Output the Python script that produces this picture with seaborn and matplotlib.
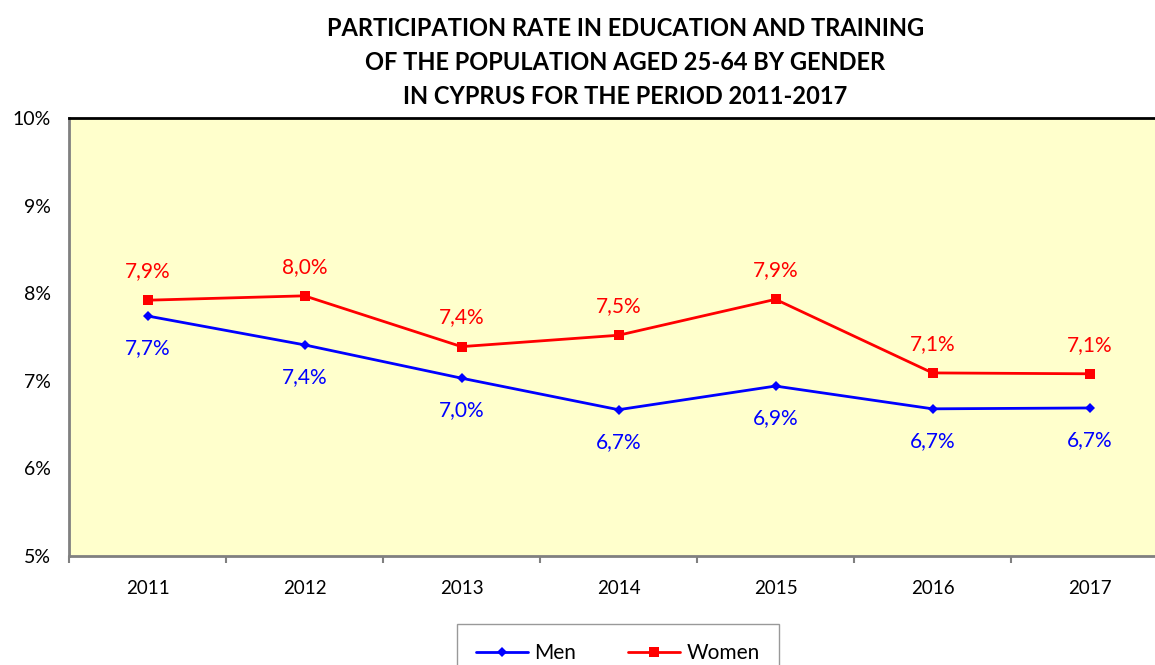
import numpy as np
import pandas as pd
import matplotlib
matplotlib.use("Agg")
import matplotlib.pyplot as plt
import seaborn as sns

years = ['2011', '2012', '2013', '2014', '2015', '2016', '2017']
men = [7.74, 7.41, 7.03, 6.67, 6.94, 6.68, 6.69]
women = [7.92, 7.97, 7.39, 7.52, 7.93, 7.09, 7.08]
men_labels = ['7,7%', '7,4%', '7,0%', '6,7%', '6,9%', '6,7%', '6,7%']
women_labels = ['7,9%', '8,0%', '7,4%', '7,5%', '7,9%', '7,1%', '7,1%']
yticks = [5, 6, 7, 8, 9, 10]

sns.set_style("white")
plt.rcParams['font.family'] = ['Lato', 'DejaVu Sans']
plt.rcParams['text.color'] = 'black'
plt.rcParams['xtick.labelcolor'] = 'black'
plt.rcParams['ytick.labelcolor'] = 'black'

df = pd.DataFrame({
    'x': list(range(len(years))) * 2,
    'value': men + women,
    'Gender': ['Men'] * len(years) + ['Women'] * len(years),
})

fig = plt.figure(figsize=(11.55, 6.65), dpi=100)
ax = fig.add_axes([69/1155, 1-556/665, 1099/1155, (556-118)/665])
ax.set_facecolor('#FFFFCC')

sns.lineplot(data=df, x='x', y='value', hue='Gender', style='Gender',
             palette={'Men': '#0000FF', 'Women': '#FF0000'},
             markers={'Men': 'D', 'Women': 's'}, dashes=False,
             markersize=7, linewidth=2, markeredgewidth=0, ax=ax, legend=True)
# diamond a bit smaller than the square
for line in ax.get_lines():
    if line.get_marker() == 'D':
        line.set_markersize(5.5)

for i in range(len(years)):
    ax.annotate(women_labels[i], (i, women[i]), xytext=(0, 21), textcoords='offset points',
                ha='center', va='center', color='#FF0000', fontsize=15)
    ax.annotate(men_labels[i], (i, men[i]), xytext=(0, -23), textcoords='offset points',
                ha='center', va='center', color='#0000FF', fontsize=15)

ax.set_xlim(-0.5, 6.5)
ax.set_ylim(5, 10)
ax.set_yticks(yticks)
ax.set_yticklabels([f'{t}%' for t in yticks], fontsize=14)
ax.set_xticks(range(len(years)))
ax.set_xticklabels(years, fontsize=13.5)
ax.set_xticks(np.arange(-0.5, 7, 1), minor=True)
ax.tick_params(axis='x', which='major', length=0, pad=17)
ax.tick_params(axis='x', which='minor', length=5, color='#808080', direction='out', width=1.5)
ax.tick_params(axis='y', length=5, color='#808080', direction='out', width=1.5, pad=8)
ax.xaxis.set_tick_params(which='minor', bottom=True)
ax.set_xlabel('')
ax.set_ylabel('')

for s in ['left', 'bottom']:
    ax.spines[s].set_color('#808080')
    ax.spines[s].set_linewidth(2)
ax.spines['top'].set_color('black')
ax.spines['top'].set_linewidth(2)
ax.spines['right'].set_visible(False)

handles, labels = ax.get_legend_handles_labels()
leg = ax.legend(handles, labels, loc='center', bbox_to_anchor=(618/1155, 1-653/665),
                bbox_transform=fig.transFigure, ncol=2, frameon=True, fancybox=False,
                fontsize=15, handlelength=2.5, handletextpad=0.3, columnspacing=2.5,
                borderpad=0.9, borderaxespad=0)
leg.get_frame().set_edgecolor('#808080')
leg.get_frame().set_linewidth(1)

title_lines = ['PARTICIPATION RATE IN EDUCATION AND TRAINING',
               'OF THE POPULATION AGED 25-64 BY GENDER',
               'IN CYPRUS FOR THE PERIOD 2011-2017']
for k, t in enumerate(title_lines):
    fig.text(0.5415, 1-(28+34*k)/665, t, ha='center', va='center',
             fontsize=17, fontweight='bold')

fig.savefig('out.png', dpi=100)
